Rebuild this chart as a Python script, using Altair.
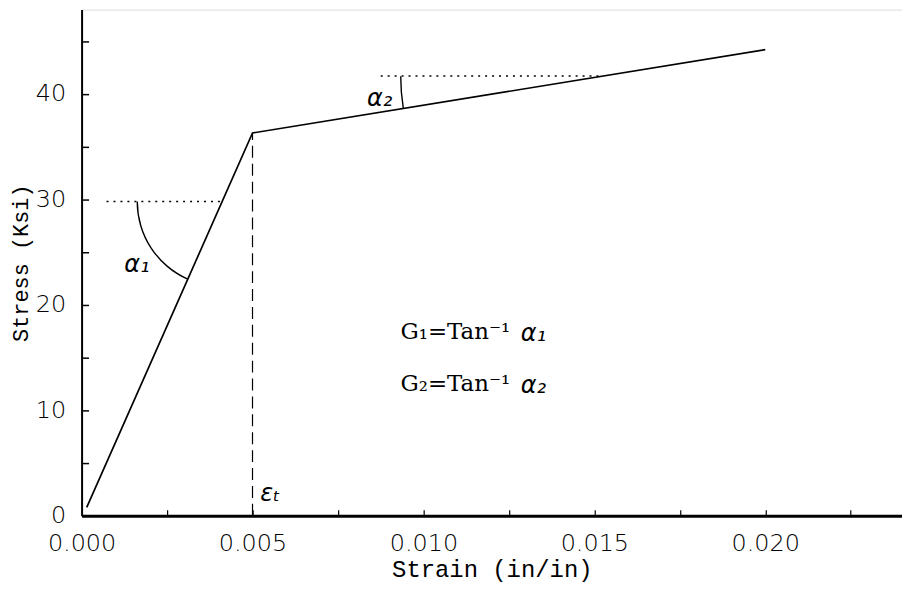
import altair as alt
import pandas as pd

# ---- data ----
strain = [0.00015, 0.005, 0.020]
stress = [0.8, 36.3, 44.2]

yield_strain = [0.005]
yield_stress = [36.3]

ref1_x = [0.00073, 0.00411]
ref1_y = [29.8, 29.8]
ref2_x = [0.00875, 0.01525]
ref2_y = [41.7, 41.7]

arc_x = [0.00411, 0.01525]
arc_y = [29.8, 41.7]
arc_start = [3.559, 4.552]
arc_end = [4.712, 4.712]
arc_r = [86, 204]

x_labels = [0.000, 0.005, 0.010, 0.015, 0.020]
y_labels = [0, 10, 20, 30, 40]
x_minor = [0.0025, 0.005, 0.0075, 0.010, 0.0125, 0.015, 0.0175, 0.020, 0.0225]
y_minor = [5, 10, 15, 20, 25, 30, 35, 40, 45]

W, H = 825, 509
XDOM = [0, 0.024]
YDOM = [0, 48]

xs = alt.Scale(domain=XDOM, nice=False, zero=False)
ys = alt.Scale(domain=YDOM, nice=False, zero=False)

lab_font = "DejaVu Sans"
ttl_font = "Liberation Mono"

curve_df = pd.DataFrame({"strain": strain, "stress": stress})
curve = alt.Chart(curve_df).mark_line(color="black", strokeWidth=1.7).encode(
    x=alt.X("strain:Q", scale=xs,
            axis=alt.Axis(title="Strain (in/in)", values=x_labels, format=".3f",
                          ticks=False, tickSize=0, grid=False, labelPadding=16,
                          labelFont=lab_font, labelFontSize=24, labelFontWeight=200,
                          labelColor="black", domainColor="black", domainWidth=3,
                          titleFont=ttl_font, titleFontSize=24, titleFontWeight="normal",
                          titleColor="black", titlePadding=2, labelFlush=False)),
    y=alt.Y("stress:Q", scale=ys,
            axis=alt.Axis(title="Stress (Ksi)", values=y_labels, format="d",
                          ticks=False, tickSize=0, grid=False, labelPadding=16,
                          labelFont=lab_font, labelFontSize=24, labelFontWeight=200,
                          labelColor="black", domainColor="black", domainWidth=2,
                          titleFont=ttl_font, titleFontSize=22, titleFontWeight="normal",
                          titleColor="black", titlePadding=3, labelFlush=False)),
)

# inner ticks: mirrored axes pulled onto the plot edges
yld_df = pd.DataFrame({"strain": yield_strain, "stress": yield_stress, "zero": [0.0]})
yld = alt.Chart(yld_df).mark_rule(color="black", strokeWidth=1.2, strokeDash=[12, 6]).encode(
    x=alt.X("strain:Q", scale=xs,
            axis=alt.Axis(orient="top", offset=-H, values=x_minor, labels=False, domain=False,
                          grid=False, title=None, tickSize=6, tickColor="black", tickWidth=1.2)),
    y=alt.Y("zero:Q", scale=ys,
            axis=alt.Axis(orient="right", offset=-W, values=y_minor, labels=False, domain=False,
                          grid=False, title=None, tickSize=7, tickColor="black", tickWidth=1.5)),
    y2="stress:Q",
)

ref_df = pd.DataFrame({"x": ref1_x + ref2_x, "y": ref1_y + ref2_y, "g": ["a", "a", "b", "b"]})
refs = alt.Chart(ref_df).mark_line(color="black", strokeWidth=1.6, strokeDash=[2, 5]).encode(
    x=alt.X("x:Q", scale=xs, axis=None), y=alt.Y("y:Q", scale=ys, axis=None), detail="g:N"
)

arc_df = pd.DataFrame({"x": arc_x, "y": arc_y, "t1": arc_start, "t2": arc_end, "r": arc_r})
arc_df["r2"] = arc_df["r"] - 1.4
arcs = alt.Chart(arc_df).mark_arc(color="black").encode(
    x=alt.X("x:Q", scale=xs, axis=None), y=alt.Y("y:Q", scale=ys, axis=None),
    theta=alt.Theta("t1:Q", scale=None), theta2="t2:Q",
    radius=alt.Radius("r:Q", scale=None), radius2="r2:Q",
)

g_df = pd.DataFrame({"x": [0.00933, 0.00933], "y": [17.4, 12.5], "t": ["G₁=Tan⁻¹", "G₂=Tan⁻¹"]})
gtext = alt.Chart(g_df).mark_text(align="left", baseline="middle", font="DejaVu Serif",
                                  fontSize=23, color="black").encode(
    x=alt.X("x:Q", scale=xs, axis=None), y=alt.Y("y:Q", scale=ys, axis=None), text="t:N")

a_df = pd.DataFrame({"x": [0.01285, 0.01285, 0.00125, 0.00835, 0.00523],
                     "y": [17.2, 12.3, 23.8, 39.5, 2.1],
                     "t": ["α₁", "α₂", "α₁", "α₂", "εₜ"]})
atext = alt.Chart(a_df).mark_text(align="left", baseline="middle", font="DejaVu Sans",
                                  fontStyle="italic", fontSize=24, color="black").encode(
    x=alt.X("x:Q", scale=xs, axis=None), y=alt.Y("y:Q", scale=ys, axis=None), text="t:N")

chart = alt.layer(curve, yld, refs, arcs, gtext, atext).resolve_axis(
    x="independent", y="independent"
).properties(
    width=W, height=H,
    autosize=alt.AutoSizeParams(type="none"),
    padding={"left": 74, "top": 0, "right": 0, "bottom": 72},
).configure_view(stroke=None).configure(background="white")

chart.save("out.html", embed_options={"renderer": "svg", "actions": False})
